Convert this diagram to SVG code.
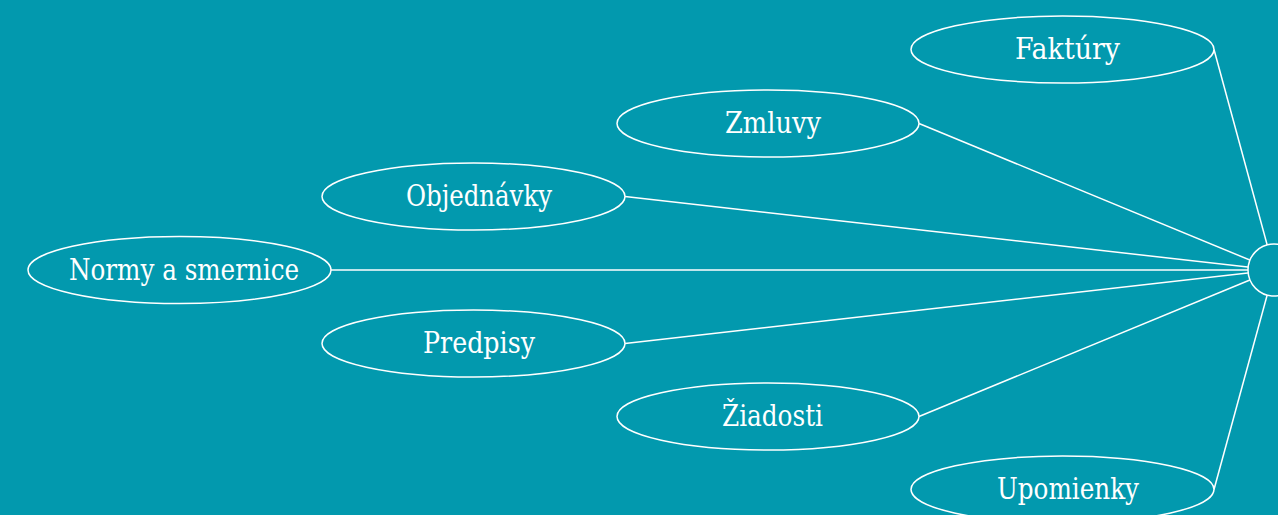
<svg xmlns="http://www.w3.org/2000/svg" width="1278" height="515" viewBox="0 0 1278 515">
<style>
.n ellipse{fill:#0299ae;stroke:#fff;stroke-width:1.5}
.n text{fill:#fff;font-family:"DejaVu Serif","Liberation Serif",serif;font-stretch:condensed;font-size:30px;text-anchor:middle}
#edges line{stroke:#fff;stroke-width:1.5}
</style>
<rect width="1278" height="515" fill="#0299ae"/>
<g id="edges">
<line x1="1214" y1="49.5" x2="1274" y2="270"/>
<line x1="919" y1="123.5" x2="1274" y2="270"/>
<line x1="625" y1="196.5" x2="1274" y2="270"/>
<line x1="331" y1="270" x2="1274" y2="270"/>
<line x1="625" y1="343.5" x2="1274" y2="270"/>
<line x1="919" y1="416.5" x2="1274" y2="270"/>
<line x1="1214" y1="489.5" x2="1274" y2="270"/>
</g>
<g id="hub" class="n"><ellipse cx="1274" cy="270" rx="26" ry="26"/></g>
<g id="faktury" class="n"><ellipse cx="1062.5" cy="49.5" rx="151.5" ry="33.5"/><text x="1067.5" y="59" textLength="105" lengthAdjust="spacingAndGlyphs">Faktúry</text></g>
<g id="zmluvy" class="n"><ellipse cx="768" cy="123.5" rx="151" ry="33.5"/><text x="773" y="133" textLength="96" lengthAdjust="spacingAndGlyphs">Zmluvy</text></g>
<g id="objednavky" class="n"><ellipse cx="473.5" cy="196.5" rx="151.5" ry="33.5"/><text x="479" y="206" textLength="146" lengthAdjust="spacingAndGlyphs">Objednávky</text></g>
<g id="normy" class="n"><ellipse cx="179.5" cy="270" rx="151.5" ry="33.5"/><text x="184" y="279.5" textLength="230" lengthAdjust="spacingAndGlyphs">Normy a smernice</text></g>
<g id="predpisy" class="n"><ellipse cx="473.5" cy="343.5" rx="151.5" ry="33.5"/><text x="479" y="353" textLength="112" lengthAdjust="spacingAndGlyphs">Predpisy</text></g>
<g id="ziadosti" class="n"><ellipse cx="768" cy="416.5" rx="151" ry="33.5"/><text x="772.5" y="426" textLength="101" lengthAdjust="spacingAndGlyphs">Žiadosti</text></g>
<g id="upomienky" class="n"><ellipse cx="1062.5" cy="489.5" rx="151.5" ry="33.5"/><text x="1068" y="499" textLength="142" lengthAdjust="spacingAndGlyphs">Upomienky</text></g>
</svg>
